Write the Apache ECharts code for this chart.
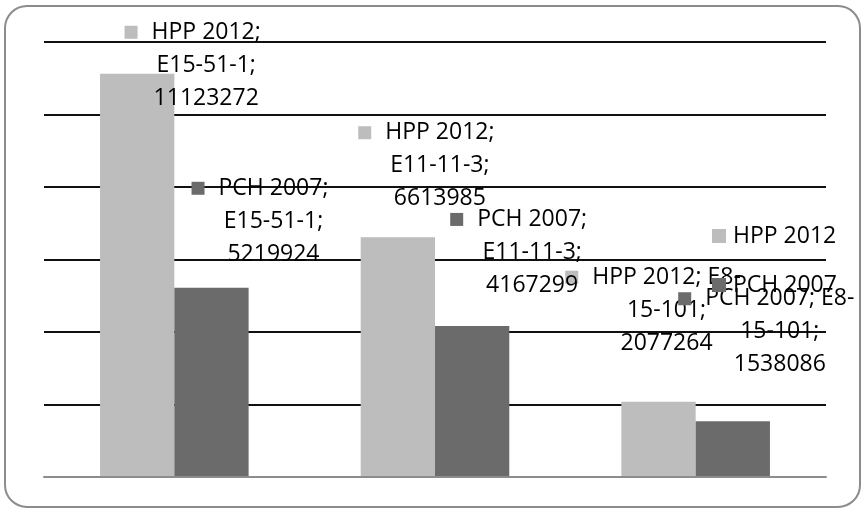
<!DOCTYPE html>
<html>
<head>
<meta charset="utf-8">
<script src="https://cdn.jsdelivr.net/npm/echarts@6/dist/echarts.min.js"></script>
<style>
html,body{margin:0;padding:0;background:#fff;}
#chart{width:861px;height:509px;}
</style>
</head>
<body>
<div id="chart"></div>
<script>
const categories = ['E15-51-1', 'E11-11-3', 'E8-15-101'];
const seriesNames = ['HPP 2012', 'PCH 2007'];
const hppValues = [11123272, 6613985, 2077264];
const pchValues = [5219924, 4167299, 1538086];
const yTicks = [0, 2000000, 4000000, 6000000, 8000000, 10000000, 12000000];

// layout / style (not data)
const colors = ['#bdbdbd', '#6b6b6b'];
const labelOffsets = [
  [[69, 41], [42, -22], [8, -42]],
  [[62, -17], [60, -24], [47, -40]]
];
const splitCategoryOnFirstLine = [false, false, true];
const FONT = 'Open Sans';
const FS = 23;
const LH = 33;

function makeFormatter(si) {
  return function (p) {
    const cat = categories[p.dataIndex];
    let l1, l2;
    if (splitCategoryOnFirstLine[p.dataIndex]) {
      const i = cat.indexOf('-');
      l1 = p.seriesName + '; ' + cat.slice(0, i + 1);
      l2 = cat.slice(i + 1) + ';';
    } else {
      l1 = p.seriesName + ';';
      l2 = cat + ';';
    }
    return '{k' + si + '|}{g|}{t|' + l1 + '}{g2|}\n{t|' + l2 + '}\n{t|' + p.value + '}';
  };
}

const richBase = {
  k0: { width: 13, height: 13, backgroundColor: colors[0], lineHeight: LH },
  k1: { width: 13, height: 13, backgroundColor: colors[1], lineHeight: LH },
  g: { width: 14, lineHeight: LH },
  g2: { width: 27, lineHeight: LH },
  t: { fontFamily: FONT, fontSize: FS, color: '#000', lineHeight: LH }
};

function buildData(values, si) {
  return values.map((v, i) => ({
    value: v,
    label: { offset: labelOffsets[si][i] }
  }));
}

function labelConf(si) {
  return {
    show: true,
    position: 'top',
    distance: 0,
    align: 'center',
    lineHeight: LH,
    formatter: makeFormatter(si),
    rich: richBase
  };
}

const yMin = yTicks[0];
const yMax = yTicks[yTicks.length - 1];
const yInterval = yTicks[1] - yTicks[0];

const chart = echarts.init(document.getElementById('chart'), null, { renderer: 'canvas' });
chart.setOption({
  animation: false,
  backgroundColor: '#fff',
  textStyle: { fontFamily: FONT },
  graphic: [{
    type: 'rect',
    shape: { x: 5, y: 6, width: 855, height: 501, r: 22 },
    style: { fill: 'none', stroke: '#8c8c8c', lineWidth: 2 },
    z: -1,
    silent: true
  }],
  legend: {
    orient: 'vertical',
    left: 707,
    top: 219,
    itemWidth: 14,
    itemHeight: 14,
    itemGap: 25,
    icon: 'rect',
    data: seriesNames,
    textStyle: { fontFamily: FONT, fontSize: FS, color: '#000', lineHeight: 24, padding: [0, 0, 0, 2] }
  },
  grid: { left: 44, right: 35, top: 42, bottom: 32, containLabel: false },
  xAxis: {
    type: 'category',
    data: categories,
    z: 5,
    axisLine: { show: true, lineStyle: { color: '#8c8c8c', width: 2 } },
    axisTick: { show: false },
    axisLabel: { show: false }
  },
  yAxis: {
    type: 'value',
    min: yMin,
    max: yMax,
    interval: yInterval,
    axisLine: { show: false },
    axisTick: { show: false },
    axisLabel: { show: false },
    splitLine: { show: true, lineStyle: { color: '#111', width: 2 } }
  },
  series: [
    {
      name: seriesNames[0],
      type: 'bar',
      barGap: '0%',
      barCategoryGap: '43%',
      itemStyle: { color: colors[0] },
      data: buildData(hppValues, 0),
      label: labelConf(0),
      z: 2
    },
    {
      name: seriesNames[1],
      type: 'bar',
      barGap: '0%',
      barCategoryGap: '43%',
      itemStyle: { color: colors[1] },
      data: buildData(pchValues, 1),
      label: labelConf(1),
      z: 2
    }
  ]
});
</script>
</body>
</html>
